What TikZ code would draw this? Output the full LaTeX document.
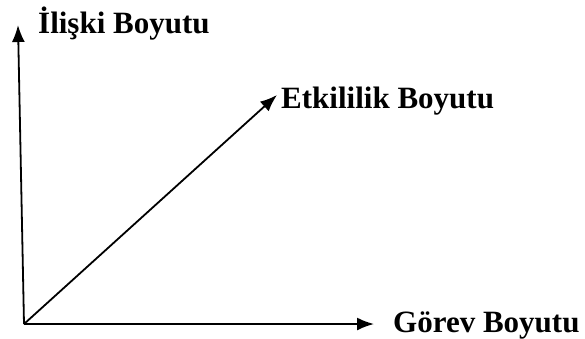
\documentclass[tikz,border=0pt]{standalone}
\usepackage{fontspec}
\setmainfont{Liberation Serif}
\usetikzlibrary{arrows.meta}
\begin{document}
\begin{tikzpicture}[x=1pt,y=-1pt,
  axis/.style={line width=1.8pt,-{Latex[length=17pt,width=13pt]}},
  lbl/.style={font=\fontsize{31}{36}\selectfont\bfseries,anchor=base west,inner sep=0pt}]
\useasboundingbox (0,0) rectangle (585,338);
\coordinate (o) at (24,324);
\coordinate (ytip) at (18,25);
\coordinate (xtip) at (374,324);
\coordinate (dtip) at (277,95);
\node[lbl] (ylab) at (38,33) {İlişki Boyutu};
\node[lbl] (dlab) at (281,108) {Etkililik Boyutu};
\node[lbl] (xlab) at (393,332) {Görev Boyutu};
\draw[axis] (o) -- (ytip);
\draw[axis] (o) -- (xtip);
\draw[axis] (o) -- (dtip);
\end{tikzpicture}
\end{document}
